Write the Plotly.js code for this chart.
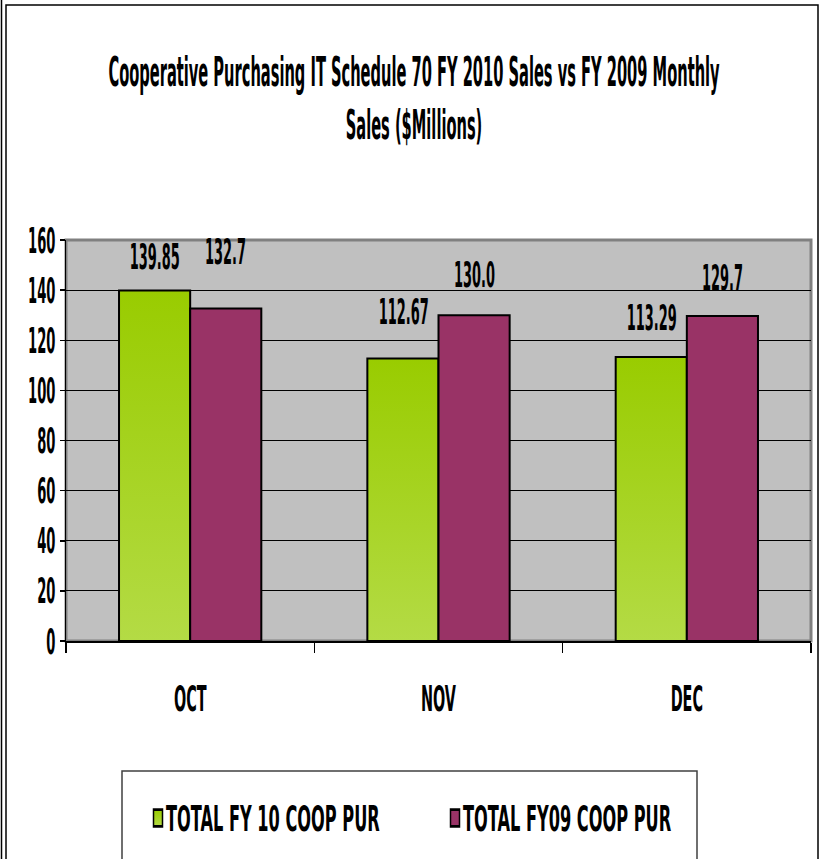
<!DOCTYPE html>
<html>
<head>
<meta charset="utf-8">
<script src="https://cdn.plot.ly/plotly-3.0.1.min.js"></script>
<style>
html,body{margin:0;padding:0;background:#fff;}
#chart{width:823px;height:859px;}
</style>
</head>
<body>
<div id="chart"></div>
<script>
// ---- data ----
const months = ["OCT", "NOV", "DEC"];
const fy10Sales = [139.85, 112.67, 113.29];
const fy09Sales = [132.7, 130.0, 129.7];
const fy10Name = "TOTAL FY 10 COOP PUR";
const fy09Name = "TOTAL FY09 COOP PUR";
const yTicks = [0, 20, 40, 60, 80, 100, 120, 140, 160];
const chartTitle = "Cooperative Purchasing IT Schedule 70 FY 2010 Sales vs FY 2009 Monthly<br>Sales ($Millions)";

// ---- style ----
const FONT = "DejaVu Sans Condensed, Liberation Sans Narrow, sans-serif";
const GREEN = "#99CC00";
const MAROON = "#993366";

const fy10Shift = [34, 47, 39];
const fy09Shift = [56, 40, 38];

const traces = [
  {type: "bar", name: fy10Name, x: months, y: fy10Sales,
   marker: {color: GREEN, line: {color: "#000", width: 2}}, hoverinfo: "skip"},
  {type: "bar", name: fy09Name, x: months, y: fy09Sales,
   marker: {color: MAROON, line: {color: "#000", width: 2}}, hoverinfo: "skip"}
];

const annFont = {family: FONT, size: 20, color: "#000", weight: "bold"};
const annotations = [];
months.forEach((m, i) => {
  annotations.push({x: m, y: fy10Sales[i], xref: "x", yref: "y", text: String(fy10Sales[i]),
    showarrow: false, xshift: -35.5, yshift: fy10Shift[i], yanchor: "middle", font: annFont});
  annotations.push({x: m, y: fy09Sales[i], xref: "x", yref: "y", text: fy09Sales[i].toFixed(1),
    showarrow: false, xshift: 35.5, yshift: fy09Shift[i], yanchor: "middle", font: annFont});
});

const L = 66, R = 811, T = 240, B = 641;
const W = R - L, H = B - T;
const px = v => (v - L) / W;
const py = v => (B - v) / H;

const shapes = [
  {type: "rect", xref: "paper", yref: "paper", x0: px(6), x1: px(818), y0: py(900), y1: py(5),
   line: {color: "#000", width: 1.5}, layer: "below"},
  {type: "line", xref: "paper", yref: "paper", x0: px(1.5), x1: px(1.5), y0: py(900), y1: py(0),
   line: {color: "#000", width: 1.5}, layer: "below"},
  {type: "rect", xref: "paper", yref: "paper", x0: 0, x1: 1, y0: 0, y1: 1,
   line: {color: "#808080", width: 3}, layer: "below"},
  {type: "rect", xref: "paper", yref: "paper", x0: px(122), x1: px(697), y0: py(900), y1: py(771),
   line: {color: "#404040", width: 1.5}, layer: "below"}
];

const layout = {
  width: 823, height: 859,
  margin: {l: L, r: 823 - R, t: T, b: 859 - B, pad: 0, autoexpand: false},
  paper_bgcolor: "#fff",
  plot_bgcolor: "#C0C0C0",
  title: {text: chartTitle, font: {family: FONT, size: 22, color: "#000", weight: "bold"},
          x: 414 / 823, xref: "container", xanchor: "center", y: 1 - 92 / 859, yanchor: "middle"},
  barmode: "group",
  bargap: 0.427,
  bargroupgap: 0,
  showlegend: true,
  legend: {orientation: "h", x: px(138), xanchor: "left", y: py(818), yanchor: "middle",
           font: {family: FONT, size: 20, color: "#000", weight: "bold"},
           entrywidth: 252, entrywidthmode: "pixels", bgcolor: "rgba(0,0,0,0)",
           itemclick: false},
  xaxis: {type: "category", showgrid: false, showline: true, linecolor: "#000", linewidth: 1.5,
          ticks: "outside", ticklen: 10, tickcolor: "#000", tickwidth: 1.5, tickson: "boundaries",
          ticklabelstandoff: 39,
          tickfont: {family: FONT, size: 20, color: "#000", weight: "bold"}, fixedrange: true},
  yaxis: {range: [0, 160], tickvals: yTicks, ticktext: yTicks.map(String),
          showgrid: true, gridcolor: "#000", gridwidth: 1, zeroline: false,
          showline: true, linecolor: "#000", linewidth: 1.5,
          ticks: "outside", ticklen: 5, tickcolor: "#000", tickwidth: 1.5,
          ticklabelstandoff: 0,
          tickfont: {family: FONT, size: 20, color: "#000", weight: "bold"}, fixedrange: true},
  annotations: annotations,
  shapes: shapes
};

// scale text glyphs (narrow / tall look of the original) without moving anchor point
function stretch(sel, sx, sy, anchor, dx) {
  document.querySelectorAll(sel).forEach(t => {
    const b = t.getBBox();
    let cx = b.x + b.width / 2;
    if (anchor === "left") cx = b.x;
    if (anchor === "right") cx = b.x + b.width;
    const cy = b.y + b.height / 2;
    const tr = t.getAttribute("transform") || "";
    t.setAttribute("transform", tr + " translate(" + (cx + (dx || 0)) + "," + cy + ") scale(" + sx + "," + sy + ") translate(" + (-cx) + "," + (-cy) + ")");
  });
}

function addGradient(gd) {
  const svg = gd.querySelector("svg.main-svg");
  const ns = "http://www.w3.org/2000/svg";
  let defs = svg.querySelector("defs");
  if (!defs) { defs = document.createElementNS(ns, "defs"); svg.insertBefore(defs, svg.firstChild); }
  const g = document.createElementNS(ns, "linearGradient");
  g.setAttribute("id", "greenGrad");
  g.setAttribute("x1", "0"); g.setAttribute("y1", "0"); g.setAttribute("x2", "0"); g.setAttribute("y2", "1");
  [["0", "#99CC00"], ["1", "#B4DB45"]].forEach(([o, c]) => {
    const s = document.createElementNS(ns, "stop");
    s.setAttribute("offset", o); s.setAttribute("stop-color", c);
    g.appendChild(s);
  });
  defs.appendChild(g);
  gd.querySelectorAll(".barlayer .trace:first-child path").forEach(p => {
    p.style.fill = "url(#greenGrad)";
  });
  const leg = gd.querySelectorAll(".legend .traces");
  if (leg.length) leg[0].querySelectorAll(".legendpoints path").forEach(p => { p.style.fill = "url(#greenGrad)"; });
}

Plotly.newPlot("chart", traces, layout, {staticPlot: true, displayModeBar: false}).then(gd => {
  addGradient(gd);
  stretch(".gtitle", 0.74, 1.85, "center");
  stretch(".xtick text", 0.8, 1.75, "center");
  stretch(".ytick text", 0.73, 1.8, "right");
  stretch(".annotation-text", 0.72, 1.75, "center");
  stretch(".legendtext", 0.9, 1.75, "left", -12);
  stretch(".legend .legendpoints path", 0.75, 1.4, "center");
});
</script>
</body>
</html>
